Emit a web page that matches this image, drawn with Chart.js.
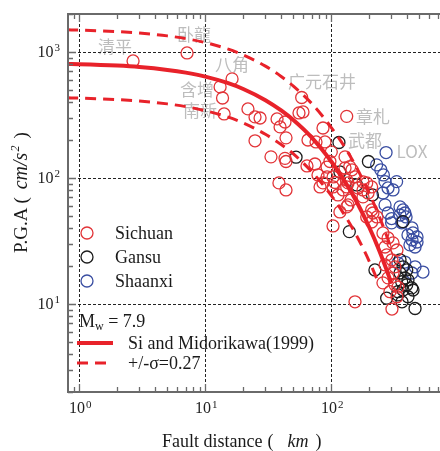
<!DOCTYPE html>
<html><head><meta charset="utf-8">
<script src="https://cdn.jsdelivr.net/npm/chart.js@4/dist/chart.umd.min.js"></script>
<style>html,body{margin:0;padding:0;background:#fff;overflow:hidden}canvas{display:block}</style>
</head><body>
<canvas id="c" width="440" height="451"></canvas>
<script>
// ---------- data ----------
const sichuanX=[2.67,7.16,16.3,13.1,13.7,14.1,21.8,24.8,27.2,37.1,39.2,42.9,43.7,24.8,33.2,42.9,43.7,38.4,43.7,58.2,55.4,59.6,65.3,75.6,89.1,85.9,132.5,64.1,74.2,78.4,81.4,92.5,92.5,103.2,128.5,132.5,146,154.2,191,209,132.5,117,135.7,178.5,209,103.2,154.2,303,85.9,106.9,103.2,128.5,124,113,135.7,162.9,143.3,100,178.5,195.6,214,230.5,191,209,257,282,267,309,332,275,303,267,320,309,282,320,257,292,332,338,132.5,178.5,97.5,140];
const sichuanY=[848,982,611,528,431,322,353,305,299,294,254,278,208,197,147,143,135,91.3,80.3,435,328,334,200,193,193,249,308,124.5,129,105.6,84.8,122,101.8,101.8,147,96.4,116,101.8,91.3,84.8,84.8,53.7,61.1,70.7,55.7,41.6,10.4,9.1,91.3,92,84.8,120,80.3,73.3,91.3,83.3,66.9,161,93,76,52.7,49,49,44.7,36.6,33.4,28.3,30.5,26.8,24.5,22.4,20.4,19.7,17.6,16.1,14.2,14.7,12.5,11.4,13.6,58.9,80.3,135,123];
const gansuX=[52.5,115,197,117,159,212,139,222,351,384,406,362,397,435,371,338,406,275,364,462,371,351,371,397,445,338];
const gansuY=[146,191,135,111.6,88,73.3,37.5,18.6,17.6,16.1,15.5,15.0,14.2,13.4,12.9,12.5,11.4,11.1,10.4,9.2,45,22.4,19.7,18.6,12.9,11.8];
const shaanxiX=[272,229,247,259,267,330,282,309,257,267,351,371,384,351,392,364,282,301,362,437,406,445,479,437,479,421,462,338,384,462,534,437,301];
const shaanxiY=[159,127,116,105.6,93.5,93.5,83.3,80.3,76,61.1,58.9,55.7,52.7,50.8,49,44.7,52.7,44,44,40.1,35.3,36.6,34,32.2,31,29.4,28.3,21.1,21.5,19.7,17.9,17.6,47.6];

const curveX=[0.8,1,2,3,5,7,10,15,20,30,40,50,70,100,130,160,200,240,280,300];
const curveMid=[804,800,779,759,720,685,637,567,508,414,343,288,209,135,91.6,63.8,40.6,26.6,17.7,14.5];
const curveUpper=[1497,1490,1450,1413,1341,1275,1186,1056,946,771,639,536,389,251,171,119,75.6,49.5,33.0,27.0];
const lowerX=[0.8,1,2,3,5,7,10,15,20,30,40,50,70,100,130,160,200,240];
const curveLower=[432,430,418,408,387,368,342,305,273,222,184,155,112,72.5,49.2,34.3,21.8,14.3];

const xDecades=[1,10,100];
const yDecades=[10,100,1000];
const xExp=['0','1','2'];
const yExp=['1','2','3'];

const siteNames=['清平','卧龍','八角','含增','南新','广元石井','章札','武都','LOX'];
const siteX=[1.92,8.13,16.3,8.6,9.08,84.4,214,185,437];
const siteY=[1096,1364,788,499,340,578,305,197,161];

const seriesNames=['Sichuan','Gansu','Shaanxi'];
const fitName='Si and Midorikawa(1999)';
const sigmaName='+/-σ=0.27';

// ---------- style ----------
const SERIF='"Liberation Serif","Times New Roman",serif';
const RED='rgb(232,34,42)';
const C_RED='rgb(226,52,56)', C_BLK='rgb(28,28,28)', C_BLU='rgb(58,78,162)';
const AXIS='#6a6a6a';

function pts(xs,ys){return xs.map((v,i)=>({x:v,y:ys[i]}));}

function runs(ctx, list, x, y){
  let cx=x;
  list.forEach(r=>{
    cx += (r.gap||0);
    ctx.font=r.font;
    ctx.fillText(r.t, cx, y + (r.dy||0));
    cx += ctx.measureText(r.t).width;
  });
  return cx-x;
}
function runsWidth(ctx,list){
  let w=0; list.forEach(r=>{w+=(r.gap||0); ctx.font=r.font; w+=ctx.measureText(r.t).width;}); return w;
}

const decor={
  id:'decor',
  beforeDatasetsDraw(chart){
    const {ctx, chartArea:a, scales:{x,y}}=chart;
    ctx.save();
    ctx.fillStyle='#bdbdbd';
    ctx.font='17px "Noto Sans CJK SC"';
    ctx.textAlign='center'; ctx.textBaseline='middle';
    siteNames.forEach((n,i)=>ctx.fillText(n, x.getPixelForValue(siteX[i]), y.getPixelForValue(siteY[i])));
    ctx.strokeStyle='#222'; ctx.lineWidth=1; ctx.setLineDash([3,2]);
    ctx.beginPath();
    xDecades.forEach(v=>{const p=Math.round(x.getPixelForValue(v))+0.5; ctx.moveTo(p,a.top); ctx.lineTo(p,a.bottom);});
    yDecades.forEach(v=>{const p=Math.round(y.getPixelForValue(v))+0.5; ctx.moveTo(a.left,p); ctx.lineTo(a.right,p);});
    ctx.stroke();
    ctx.restore();
  },
  afterDraw(chart){
    const {ctx, chartArea:a, scales:{x,y}}=chart;
    ctx.save();
    ctx.strokeStyle=AXIS; ctx.lineWidth=2;
    ctx.beginPath();
    ctx.moveTo(a.right+2,a.top); ctx.lineTo(a.left,a.top); ctx.lineTo(a.left,a.bottom); ctx.lineTo(a.right+2,a.bottom);
    ctx.stroke();
    ctx.lineWidth=1.3; ctx.beginPath();
    [0.1,1,10,100].forEach(d=>{for(let m=1;m<10;m++){const v=d*m; if(v<x.min||v>x.max) continue;
      const p=Math.round(x.getPixelForValue(v))+0.5; const L=(m===1)?8:5;
      ctx.moveTo(p,a.bottom); ctx.lineTo(p,a.bottom-L); ctx.moveTo(p,a.top); ctx.lineTo(p,a.top+L);}});
    [1,10,100,1000].forEach(d=>{for(let m=1;m<10;m++){const v=d*m; if(v<y.min||v>y.max) continue;
      const p=Math.round(y.getPixelForValue(v))+0.5; const L=(m===1)?8:5;
      ctx.moveTo(a.left,p); ctx.lineTo(a.left+L,p);}});
    ctx.stroke();
    ctx.fillStyle='#222'; ctx.textAlign='left'; ctx.textBaseline='middle';
    xDecades.forEach((v,i)=>{
      const lst=[{t:'10',font:'16px '+SERIF},{t:xExp[i],font:'11px '+SERIF,dy:-4,gap:1}];
      const w=runsWidth(ctx,lst); runs(ctx,lst,x.getPixelForValue(v)-w/2+1,409);
    });
    yDecades.forEach((v,i)=>{
      const lst=[{t:'10',font:'16px '+SERIF},{t:yExp[i],font:'11px '+SERIF,dy:-5,gap:1}];
      const w=runsWidth(ctx,lst); runs(ctx,lst,60-w,y.getPixelForValue(v)+1);
    });
    ctx.textBaseline='alphabetic'; ctx.fillStyle='#1a1a1a';
    runs(ctx,[{t:'Fault distance',font:'18px '+SERIF},{t:'(',font:'18px '+SERIF,gap:5},
      {t:'km',font:'italic 18px '+SERIF,gap:14},{t:')',font:'18px '+SERIF,gap:7}],162,447);
    ctx.save(); ctx.translate(27,253); ctx.rotate(-Math.PI/2);
    runs(ctx,[{t:'P.G.A',font:'19px '+SERIF},{t:'(',font:'19px '+SERIF,gap:4},
      {t:'cm/s',font:'italic 20px '+SERIF,gap:8},{t:'2',font:'italic 12px '+SERIF,dy:-8,gap:1},{t:')',font:'19px '+SERIF,gap:7}],0,0);
    ctx.restore();
    const cols=[C_RED,C_BLK,C_BLU]; const ly=[233,257,281];
    ctx.lineWidth=1.3;
    seriesNames.forEach((n,i)=>{
      ctx.strokeStyle=cols[i]; ctx.beginPath(); ctx.arc(87,ly[i],6,0,Math.PI*2); ctx.stroke();
      ctx.fillStyle='#1a1a1a'; ctx.font='18px '+SERIF; ctx.textBaseline='middle'; ctx.fillText(n,115,ly[i]+1);
    });
    ctx.textBaseline='alphabetic';
    runs(ctx,[{t:'M',font:'18px '+SERIF},{t:'w',font:'12px '+SERIF,dy:3},{t:' = 7.9',font:'18px '+SERIF}],79,327);
    ctx.strokeStyle=RED; ctx.lineWidth=4; ctx.beginPath(); ctx.moveTo(77,343); ctx.lineTo(113,343); ctx.stroke();
    ctx.lineWidth=3; ctx.setLineDash([11,7]); ctx.beginPath(); ctx.moveTo(77,363); ctx.lineTo(113,363); ctx.stroke();
    ctx.setLineDash([]);
    ctx.fillStyle='#1a1a1a'; ctx.font='18px '+SERIF; ctx.textBaseline='middle';
    ctx.fillText(fitName,128,344); ctx.fillText(sigmaName,128,364);
    ctx.restore();
  }
};

const scatterDs=(label,xs,ys,col)=>({label,data:pts(xs,ys),showLine:false,pointStyle:'circle',pointRadius:6,pointHoverRadius:6,
  borderColor:col,backgroundColor:'rgba(0,0,0,0)',pointBorderWidth:1.3,borderWidth:1.3,order:2});
const lineDs=(label,xs,ys,w,dash)=>({label,data:pts(xs,ys),showLine:true,pointRadius:0,borderColor:RED,borderWidth:w,
  borderDash:dash,cubicInterpolationMode:'monotone',fill:false,order:1});

new Chart(document.getElementById('c'),{
  type:'scatter',
  data:{datasets:[
    lineDs('fit',curveX,curveMid,4,[]),
    lineDs('upper',curveX,curveUpper,3,[11,7]),
    lineDs('lower',lowerX,curveLower,3,[11,7]),
    scatterDs(seriesNames[0],sichuanX,sichuanY,C_RED),
    scatterDs(seriesNames[1],gansuX,gansuY,C_BLK),
    scatterDs(seriesNames[2],shaanxiX,shaanxiY,C_BLU)
  ]},
  options:{
    responsive:false, animation:false, devicePixelRatio:1,
    layout:{autoPadding:false,padding:{left:68,right:0,top:14,bottom:59}},
    plugins:{legend:{display:false},tooltip:{enabled:false}},
    scales:{
      x:{type:'logarithmic',min:0.813,max:729,display:false},
      y:{type:'logarithmic',min:2,max:2000,display:false}
    }
  },
  plugins:[decor]
});
</script>
</body></html>
